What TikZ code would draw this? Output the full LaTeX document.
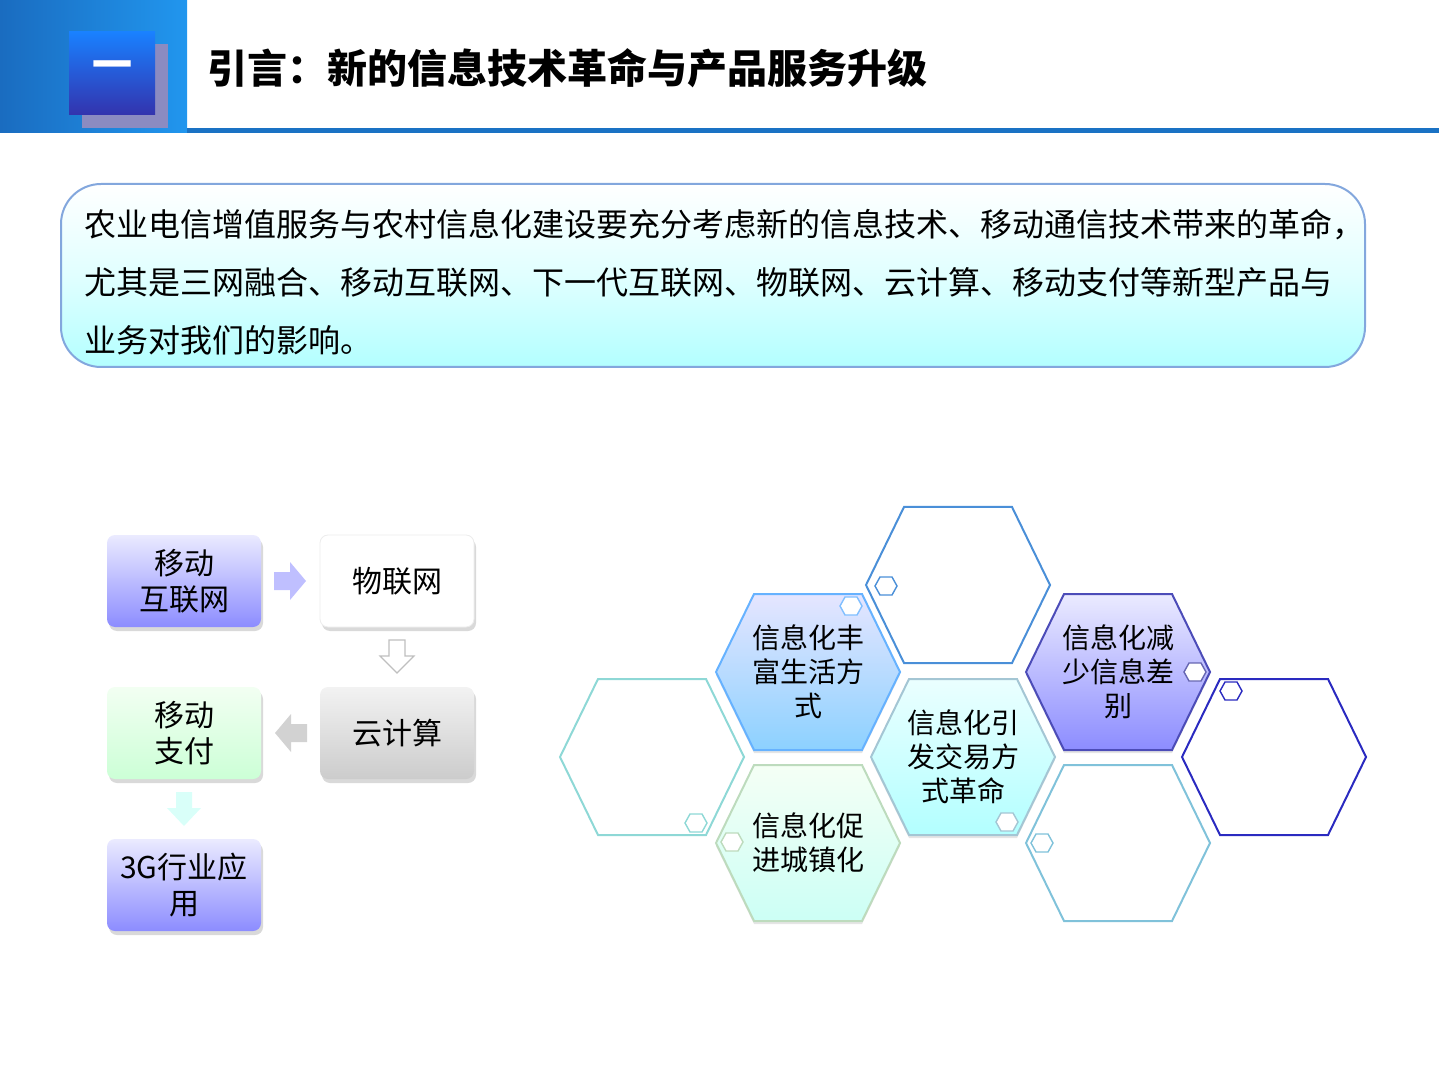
\documentclass[tikz,border=0pt]{standalone}
\usepackage{fontspec}
\setmainfont{Noto Sans CJK SC}
\usetikzlibrary{shadows,calc}
\definecolor{hblue}{HTML}{4A8FD8}
\definecolor{hteal}{HTML}{8ED8D6}
\definecolor{hnavy}{HTML}{2A2AC0}
\definecolor{hdr1}{HTML}{1A6CC0}
\definecolor{hdr2}{HTML}{2196EE}
\definecolor{rule}{HTML}{1A72C4}
\tikzset{
 hexpath/.style={line width=1pt},
 box/.style={rounded corners=4pt, minimum width=77pt, minimum height=46pt, align=center, font=\fontsize{15}{18}\selectfont, drop shadow={shadow xshift=1pt,shadow yshift=-2pt,opacity=0.3}},
 htext/.style={align=center, font=\fontsize{14}{17}\selectfont},
 arr/.style={line width=0.6pt}
}
\newcommand{\hexat}[2]{%
 \path[#2] ($(#1)+(-92,0)$) -- ++(38,78) -- ++(108,0) -- ++(38,-78) -- ++(-38,-78) -- ++(-108,0) -- cycle;}
\newcommand{\shex}[2]{\draw[#2, line width=0.7pt, fill=white] ($(#1)+(-11,0)$) -- ++(5,9) -- ++(12,0) -- ++(5,-9) -- ++(-5,-9) -- ++(-12,0) -- cycle;}
\begin{document}
\begin{tikzpicture}[x=0.5pt,y=-0.5pt]
\useasboundingbox (0,0) rectangle (1439,1079);
% header
\shade[left color=hdr1, right color=hdr2] (0,0) rectangle (187,133);
\fill[blue!30!gray!70] (82,44) rectangle (168,128);
\shade[top color=blue!55!cyan!90, bottom color=blue!60!black!80] (69,32) rectangle (155,115);
\node[font=\fontsize{20}{20}\selectfont\bfseries, text=white] (one) at (112,70) {一};
\fill[rule] (187,128) rectangle (1439,133);
\node[anchor=west, font=\fontsize{20}{24}\selectfont\bfseries] (title) at (200,68) {引言：新的信息技术革命与产品服务升级};
% intro box
\shade[rounded corners=20pt, top color=white, bottom color=cyan!30!white, middle color=cyan!12] (61,184) rectangle (1365,367);
\draw[rounded corners=20pt, cyan!50!blue!50, line width=1pt] (61,184) rectangle (1365,367);
\node[anchor=north west, align=left, font=\fontsize{16}{29}\selectfont, inner sep=0] (intro) at (84,209) {农业电信增值服务与农村信息化建设要充分考虑新的信息技术、移动通信技术带来的革命，\\尤其是三网融合、移动互联网、下一代互联网、物联网、云计算、移动支付等新型产品与\\业务对我们的影响。};
% flow boxes
\node[box, top color=blue!8!white, bottom color=blue!45!white] (b1) at (184,581) {移动\\互联网};
\node[box, fill=white, draw=gray!15] (b2) at (397,581) {物联网};
\node[box, top color=gray!10, bottom color=gray!40] (b3) at (397,733) {云计算};
\node[box, top color=green!5!white, bottom color=cyan!20!green!20!white] (b4) at (184,733) {移动\\支付};
\node[box, top color=blue!8!white, bottom color=blue!45!white] (b5) at (184,885) {3G行业应\\用};
% arrows
\fill[blue!25!white] (274,572) -- (290,572) -- (290,562) -- (306,581) -- (290,600) -- (290,590) -- (274,590) -- cycle;
\draw[gray!50, fill=white, arr] (389,640) -- (405,640) -- (405,656) -- (414,656) -- (397,673) -- (380,656) -- (389,656) -- cycle;
\fill[gray!35] (307,724) -- (291,724) -- (291,714) -- (275,733) -- (291,752) -- (291,742) -- (307,742) -- cycle;
\fill[green!15!cyan!15!white] (176,792) -- (192,792) -- (192,808) -- (201,808) -- (184,826) -- (167,808) -- (176,808) -- cycle;
% hexagons
\hexat{958,585}{draw=hblue, hexpath}
\hexat{652,757}{draw=hteal, hexpath}
\hexat{1118,843}{draw=hteal!90!blue, hexpath}
\hexat{1274,757}{draw=hnavy, hexpath}
\hexat{808,675}{fill=gray!40, opacity=0.5}
\hexat{808,672}{top color=blue!10!white, bottom color=blue!40!cyan!45, draw=blue!50!cyan!60, hexpath}
\hexat{1118,675}{fill=gray!40, opacity=0.5}
\hexat{1118,672}{top color=blue!8!white, bottom color=blue!45!white, draw=blue!60!black!70, hexpath}
\hexat{963,760}{fill=gray!40, opacity=0.5}
\hexat{963,757}{top color=cyan!8!white, bottom color=cyan!30!white, draw=cyan!40!gray!60, hexpath}
\hexat{808,846}{fill=gray!40, opacity=0.5}
\hexat{808,843}{top color=green!4!white, bottom color=green!20!cyan!20!white, draw=green!30!gray!40, hexpath}
\shex{886,586}{hblue}
\shex{851,606}{blue!50!cyan!50}
\shex{1195,672}{blue!50!black!60}
\shex{1231,691}{hnavy}
\shex{1007,822}{cyan!40!gray!60}
\shex{696,823}{hteal}
\shex{732,842}{green!30!gray!40}
\shex{1042,843}{hteal!90!blue}
\node[htext] (h1) at (808,672) {信息化丰\\富生活方\\式};
\node[htext] (h2) at (1118,672) {信息化减\\少信息差\\别};
\node[htext] (h3) at (963,757) {信息化引\\发交易方\\式革命};
\node[htext] (h4) at (808,843) {信息化促\\进城镇化};
\end{tikzpicture}
\end{document}
